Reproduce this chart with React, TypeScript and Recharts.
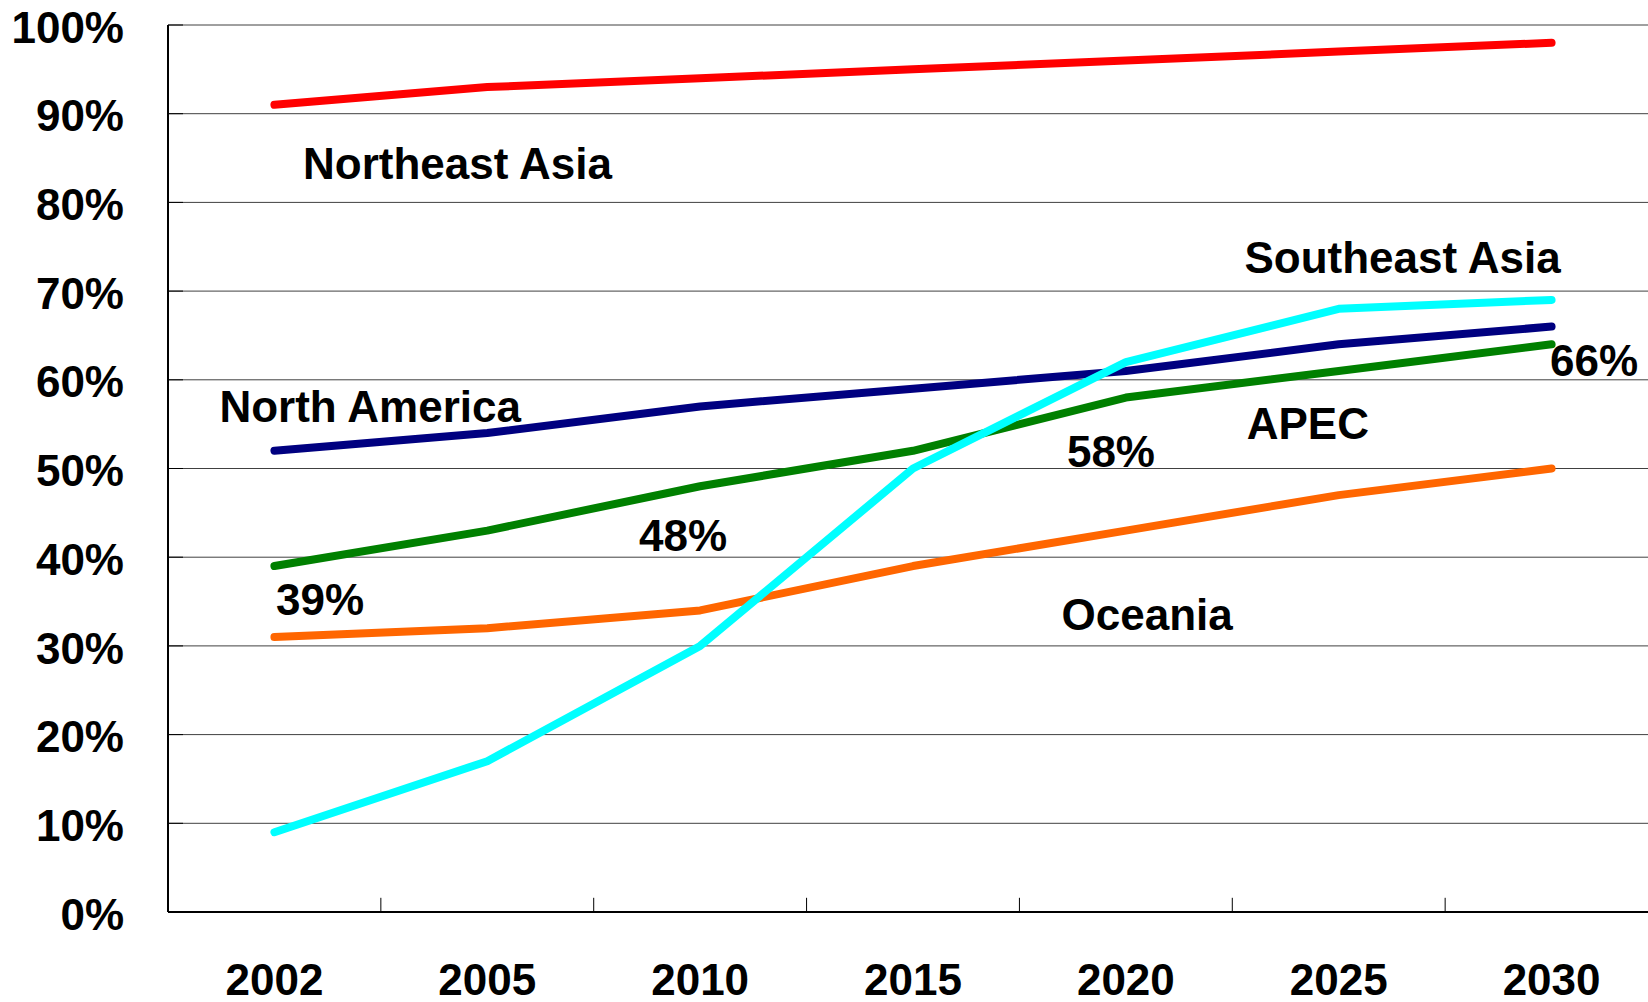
import { LineChart, Line, XAxis, YAxis, CartesianGrid, ReferenceLine, ReferenceDot } from 'recharts'

const years = ['2002', '2005', '2010', '2015', '2020', '2025', '2030']
const northeastAsia = [91, 93, 94, 95, 96, 97, 98]
const northAmerica = [52, 54, 57, 59, 61, 64, 66]
const apec = [39, 43, 48, 52, 58, 61, 64]
const southeastAsia = [9, 17, 30, 50, 62, 68, 69]
const oceania = [31, 32, 34, 39, 43, 47, 50]
const yTicks = [0, 10, 20, 30, 40, 50, 60, 70, 80, 90, 100]

// text placed in chart units (x = category index, y = percent)
const annotations = [
  { text: 'Northeast Asia', x: 0.86, y: 84.4 },
  { text: 'North America', x: 0.45, y: 57.0 },
  { text: 'Southeast Asia', x: 5.3, y: 73.8 },
  { text: '66%', x: 6.2, y: 62.2 },
  { text: 'APEC', x: 4.855, y: 55.1 },
  { text: '58%', x: 3.93, y: 51.9 },
  { text: '48%', x: 1.92, y: 42.5 },
  { text: '39%', x: 0.214, y: 35.2 },
  { text: 'Oceania', x: 4.1, y: 33.5 },
]

const series = [
  { key: 'northeastAsia', color: '#FF0000' },
  { key: 'northAmerica', color: '#000080' },
  { key: 'apec', color: '#008000' },
  { key: 'oceania', color: '#FF6600' },
  { key: 'southeastAsia', color: '#00FFFF' },
]

const data = years.map((year, i) => ({
  idx: i,
  year,
  northeastAsia: northeastAsia[i],
  northAmerica: northAmerica[i],
  apec: apec[i],
  southeastAsia: southeastAsia[i],
  oceania: oceania[i],
}))

// category boundaries for the small x-axis tick marks
const boundaries = years.slice(1).map((_, i) => i + 0.5)

const font = '"Liberation Sans", Arial, sans-serif'
const textStyle = { fontSize: 44, fontWeight: 'bold', fill: '#000', fontFamily: font }

export default function App() {
  return (
    <div style={{ position: 'absolute', left: 0, top: 0, width: 1648, height: 1002, overflow: 'hidden', background: '#fff' }}>
      <LineChart width={1660} height={1002} data={data} margin={{ top: 25, right: 2, bottom: 0, left: 0 }}>
        <CartesianGrid horizontal vertical={false} stroke="#404040" strokeWidth={1} />
        <XAxis
          dataKey="idx"
          type="number"
          domain={[-0.5, 6.5]}
          ticks={data.map((d) => d.idx)}
          interval={0}
          tickFormatter={(v: number) => years[v] ?? ''}
          height={90}
          tickLine={false}
          tickSize={0}
          tickMargin={52}
          axisLine={{ stroke: '#000', strokeWidth: 2 }}
          tick={textStyle}
        />
        <YAxis
          type="number"
          domain={[0, 100]}
          ticks={yTicks}
          interval={0}
          tickFormatter={(v: number) => `${v}%`}
          width={168}
          tickSize={-15}
          tickMargin={59}
          tickLine={{ stroke: '#000', strokeWidth: 1 }}
          axisLine={{ stroke: '#000', strokeWidth: 2 }}
          tick={{ ...textStyle, dy: 2 }}
        />
        {boundaries.map((b) => (
          <ReferenceLine
            key={b}
            segment={[{ x: b, y: 0 }, { x: b, y: 1.6 }]}
            stroke="#000"
            strokeWidth={1}
          />
        ))}
        {series.map((s) => (
          <Line
            key={s.key}
            type="linear"
            dataKey={s.key}
            stroke={s.color}
            strokeWidth={8}
            strokeLinecap="round"
            strokeLinejoin="round"
            dot={false}
            activeDot={false}
            isAnimationActive={false}
          />
        ))}
        {annotations.map((a) => (
          <ReferenceDot
            key={a.text}
            x={a.x}
            y={a.y}
            r={0}
            fill="none"
            stroke="none"
            label={{ value: a.text, position: 'center', ...textStyle }}
          />
        ))}
      </LineChart>
    </div>
  )
}
